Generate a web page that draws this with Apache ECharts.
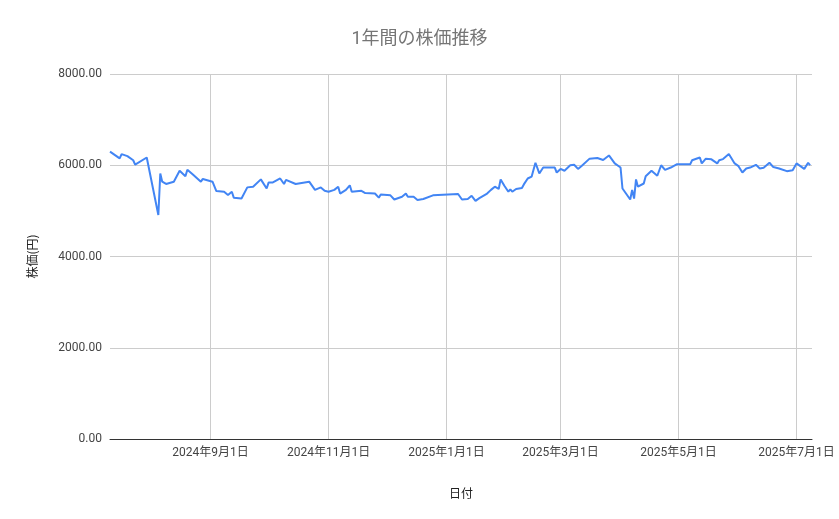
<!DOCTYPE html>
<html><head><meta charset="utf-8">
<script src="https://cdn.jsdelivr.net/npm/echarts@6/dist/echarts.min.js"></script>
<style>html,body{margin:0;padding:0;background:#fff}#c{width:839px;height:519px}</style>
</head><body><div id="c"></div>
<script>
const startDate = [2024, 7, 11];
const dayOffsets = [0,5,6,9,12,13,19,20,25,26,27,29,33,36,39,40,43,47,48,49,53,55,59,61,63,64,68,71,74,78,81,82,84,88,90,91,96,103,106,109,111,113,116,118,119,122,124,125,130,132,137,139,140,145,147,151,153,154,157,159,162,167,180,182,185,187,189,191,195,197,199,201,202,204,206,207,208,210,213,214,216,218,220,222,224,230,231,233,235,238,240,242,244,248,252,255,258,261,264,265,269,270,271,272,273,276,277,280,283,285,287,290,293,300,301,305,306,308,311,314,315,317,320,323,325,327,329,331,334,336,338,341,343,346,350,353,355,359,361,362];
const prices = [6300,6150,6245,6200,6110,6015,6170,6200,4910,5820,5640,5590,5640,5880,5760,5900,5790,5640,5700,5660,5640,5435,5420,5350,5420,5290,5270,5515,5530,5690,5490,5620,5620,5710,5590,5680,5590,5640,5460,5515,5440,5420,5460,5530,5380,5460,5560,5420,5440,5390,5380,5290,5360,5340,5250,5310,5380,5310,5310,5240,5260,5340,5370,5250,5260,5330,5220,5280,5380,5460,5530,5480,5690,5545,5420,5470,5420,5480,5500,5580,5710,5750,6055,5820,5950,5950,5840,5920,5880,6000,6010,5920,5990,6145,6160,6115,6215,6040,5950,5490,5250,5460,5270,5690,5530,5600,5760,5880,5770,6000,5900,5950,6020,6020,6110,6170,6040,6140,6130,6040,6110,6135,6245,6040,5980,5840,5930,5950,6010,5930,5945,6055,5960,5930,5870,5890,6040,5920,6055,6000];
const tickDates = [[2024,9,1],[2024,11,1],[2025,1,1],[2025,3,1],[2025,5,1],[2025,7,1]];
const yTicks = [0,2000,4000,6000,8000];
const totalDays = 363;

const DAY = 86400000;
const t0 = new Date(startDate[0], startDate[1]-1, startDate[2]).getTime();
const data = dayOffsets.map((d,i)=>[t0 + d*DAY, prices[i]]);
const ticks = tickDates.map(a=>new Date(a[0],a[1]-1,a[2]).getTime());
const chart = echarts.init(document.getElementById('c'));
chart.setOption({
  animation:false,
  title:{text:'1年間の株価推移',left:'center',top:26,textStyle:{color:'#757575',fontSize:18,fontWeight:'normal',fontFamily:'Roboto, "Noto Sans CJK JP"'}},
  grid:{left:110,right:27,top:74,bottom:80},
  xAxis:{type:'value',min:t0,max:t0+totalDays*DAY,
    name:'日付',nameLocation:'middle',nameGap:48,nameTextStyle:{color:'#222',fontSize:12,fontFamily:'"Noto Sans CJK JP"'},
    axisLine:{onZero:false,lineStyle:{color:'#333'}},
    axisTick:{show:false,customValues:ticks},
    axisLabel:{customValues:ticks,color:'#444',fontSize:12,margin:8,fontFamily:'Roboto, "Noto Sans CJK JP"',
      formatter:v=>{const d=new Date(v);return d.getFullYear()+'年'+(d.getMonth()+1)+'月'+d.getDate()+'日';}},
    splitLine:{show:true,lineStyle:{color:'#ccc'}}},
  yAxis:{type:'value',min:0,max:8000,interval:2000,
    name:'株価(円)',nameLocation:'middle',nameGap:72,nameRotate:90,nameTextStyle:{color:'#222',fontSize:12,fontFamily:'"Noto Sans CJK JP"'},
    axisLine:{show:false},axisTick:{show:false},
    axisLabel:{color:'#444',fontSize:12,fontFamily:'Roboto',formatter:v=>v.toFixed(2)},
    splitLine:{lineStyle:{color:'#ccc'}}},
  series:[{type:'line',data:data,showSymbol:false,lineStyle:{color:'#4285f4',width:2},itemStyle:{color:'#4285f4'}}]
});
</script></body></html>
